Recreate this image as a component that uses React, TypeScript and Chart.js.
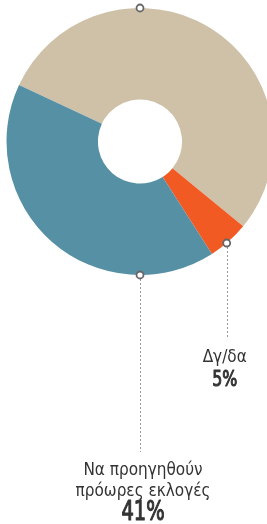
import React, { useEffect, useRef } from "react";
import { Chart, registerables } from "chart.js";

Chart.register(...registerables);

// ---- Data ----
const categories = ["Να μη γίνουν πρόωρες εκλογές", "Δγ/δα", "Να προηγηθούν πρόωρες εκλογές"];
const values = [54, 5, 41];
const percentLabels = ["54%", "5%", "41%"];
const labelLines: string[][] = [[], ["Δγ/δα"], ["Να προηγηθούν", "πρόωρες εκλογές"]];
const showLabel = [false, true, true];
// marker angle (degrees clockwise from 12 o'clock) on the outer edge
const markerAngles = [0, 139.5, 180];

// ---- Styles ----
const colors = ["#CEC1A8", "#F15A22", "#5690A4"];
const leaderLengths = [0, 96, 177];
const labelDx = [0, -2, 3];
const textColor = "#333333";
const nameFont = '17px "DejaVu Sans Condensed", sans-serif';
const pctFonts = ["", '22px "DejaVu Sans Condensed", sans-serif', '27px "DejaVu Sans Condensed", sans-serif'];
const pctSqueeze = 0.8;

const annotate = {
  id: "annotate",
  afterDraw(chart: any) {
    const ctx = chart.ctx as CanvasRenderingContext2D;
    const arc = chart.getDatasetMeta(0).data[0] as any;
    const cx = arc.x;
    const cy = arc.y;
    const R = arc.outerRadius;
    ctx.save();
    const pts = markerAngles.map((a) => {
      const r = ((a - 90) * Math.PI) / 180;
      return { x: cx + R * Math.cos(r), y: cy + R * Math.sin(r) };
    });
    // leader lines
    pts.forEach((p, i) => {
      if (!leaderLengths[i]) return;
      ctx.beginPath();
      ctx.setLineDash([2, 2]);
      ctx.strokeStyle = "#9a9a9a";
      ctx.lineWidth = 1;
      ctx.moveTo(Math.round(p.x) + 0.5, p.y + 4);
      ctx.lineTo(Math.round(p.x) + 0.5, p.y + leaderLengths[i]);
      ctx.stroke();
    });
    ctx.setLineDash([]);
    // markers
    pts.forEach((p) => {
      ctx.beginPath();
      ctx.arc(p.x, p.y, 3.5, 0, Math.PI * 2);
      ctx.fillStyle = "#ffffff";
      ctx.fill();
      ctx.strokeStyle = "#666666";
      ctx.lineWidth = 1.8;
      ctx.stroke();
    });
    // labels
    ctx.fillStyle = textColor;
    ctx.strokeStyle = textColor;
    ctx.textAlign = "center";
    ctx.textBaseline = "alphabetic";
    pts.forEach((p, i) => {
      if (!showLabel[i]) return;
      const x = p.x + labelDx[i];
      const y = p.y + leaderLengths[i];
      const lines = labelLines[i];
      ctx.font = nameFont;
      lines.forEach((t, k) => {
        ctx.fillText(t, x, y + 23 + k * 21);
      });
      ctx.save();
      ctx.font = pctFonts[i];
      ctx.translate(x, y + 23 + (lines.length - 1) * 21 + 24);
      ctx.scale(pctSqueeze, 1);
      ctx.lineWidth = 1.1;
      ctx.lineJoin = "round";
      ctx.strokeText(percentLabels[i], 0, 0);
      ctx.fillText(percentLabels[i], 0, 0);
      ctx.restore();
    });
    ctx.restore();
  },
};

export default function App() {
  const ref = useRef<HTMLCanvasElement>(null);
  useEffect(() => {
    if (!ref.current) return;
    const chart = new Chart(ref.current, {
      type: "doughnut",
      data: {
        labels: categories,
        datasets: [
          {
            data: values,
            backgroundColor: colors,
            borderWidth: 0,
          },
        ],
      },
      options: {
        responsive: false,
        animation: false,
        rotation: -65,
        cutout: "31.5%",
        layout: { padding: { top: 8, left: 6.5, right: 6.5, bottom: 249 } },
        plugins: {
          legend: { display: false },
          tooltip: { enabled: false },
        },
      },
      plugins: [annotate],
    });
    return () => chart.destroy();
  }, []);
  return (
    <div style={{ position: "absolute", left: 0, top: 0, width: 267, height: 524, overflow: "hidden", background: "#fff" }}>
      <canvas ref={ref} width={280} height={524} style={{ position: "absolute", left: 0, top: 0, width: 280, height: 524 }} />
    </div>
  );
}
